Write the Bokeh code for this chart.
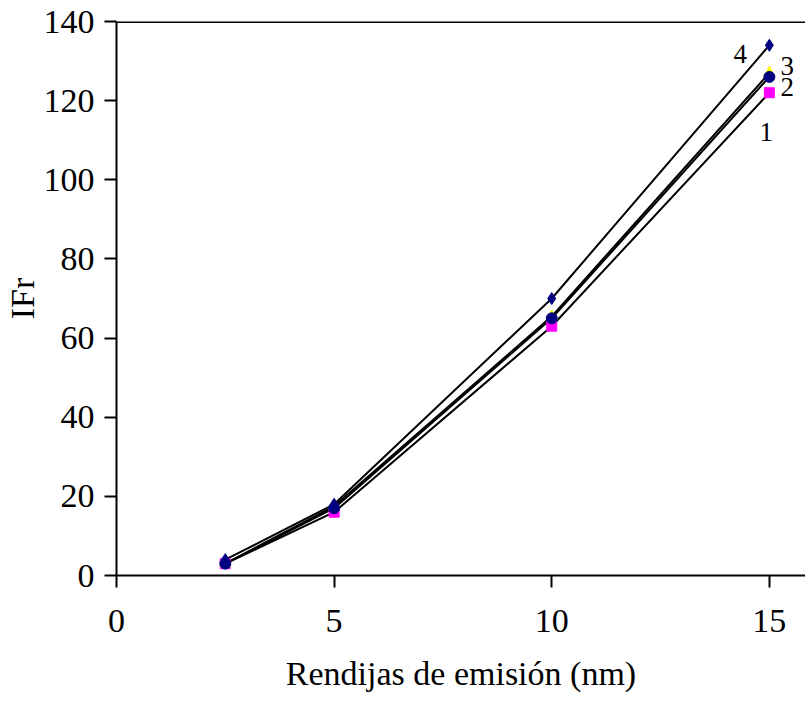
from bokeh.plotting import figure
from bokeh.models import Range1d, FixedTicker, Span, ColumnDataSource
from bokeh.core.properties import value
from bokeh.embed import file_html
from bokeh.resources import INLINE

x_vals = [2.5, 5, 10, 15]
s1 = [3, 16, 63, 122]
s2 = [3, 17, 65, 126]
s3 = [3, 17.5, 65.5, 127]
s4 = [4, 18, 70, 134]
series_labels = ["1", "2", "3", "4"]
x_ticks = [0, 5, 10, 15]
y_ticks = [0, 20, 40, 60, 80, 100, 120, 140]

FONT = "Liberation Serif"

p = figure(width=805, height=707, output_backend="svg", toolbar_location=None,
           x_range=Range1d(0, 15.83), y_range=Range1d(0, 140),
           min_border_left=115, min_border_right=0, min_border_top=21, min_border_bottom=132)
p.outline_line_color = None
p.grid.grid_line_color = None
p.background_fill_color = "white"

for ys in [s1, s2, s3, s4]:
    p.line(x_vals, ys, line_color="black", line_width=2)

p.scatter(x_vals, s1, marker="square", size=10, fill_color="magenta", line_color="magenta")
p.scatter(x_vals, s3, marker="triangle", size=11, fill_color="yellow", line_color="yellow")
p.scatter(x_vals, s2, marker="circle", size=11, fill_color="navy", line_color="navy")
p.scatter(x_vals, s4, marker="diamond", size=12, fill_color="navy", line_color="navy")

offsets_x = [-3, 18, 18, -29]
offsets_y = [39, 10, -7, 9]
last = [s1[-1], s2[-1], s3[-1], s4[-1]]
src = ColumnDataSource(dict(x=[x_vals[-1]] * 4, y=last, t=series_labels, xo=offsets_x, yo=offsets_y))
p.text(x="x", y="y", text="t", x_offset="xo", y_offset="yo", source=src,
       text_font=value(FONT), text_font_size="27px", text_align="center",
       text_baseline="middle", text_color="black")

p.add_layout(Span(location=140, dimension="width", line_color="black", line_width=3))

p.xaxis.ticker = FixedTicker(ticks=x_ticks)
p.yaxis.ticker = FixedTicker(ticks=y_ticks)
for ax in [p.xaxis[0], p.yaxis[0]]:
    ax.axis_line_color = "black"
    ax.axis_line_width = 2
    ax.major_tick_line_color = "black"
    ax.major_tick_line_width = 2
    ax.major_tick_in = 0
    ax.major_tick_out = 12
    ax.minor_tick_line_color = None
    ax.major_label_text_font = FONT
    ax.major_label_text_font_size = "34px"
    ax.major_label_text_color = "black"
    ax.axis_label_text_font = FONT
    ax.axis_label_text_font_size = "34px"
    ax.axis_label_text_font_style = "normal"
    ax.axis_label_text_color = "black"

p.xaxis.axis_label = "Rendijas de emisión (nm)"
p.yaxis.axis_label = "IFr"
p.xaxis.major_label_standoff = 22
p.yaxis.major_label_standoff = 10
p.xaxis.axis_label_standoff = 20
p.yaxis.axis_label_standoff = 0

open("out.html", "w").write(file_html(p, INLINE))
